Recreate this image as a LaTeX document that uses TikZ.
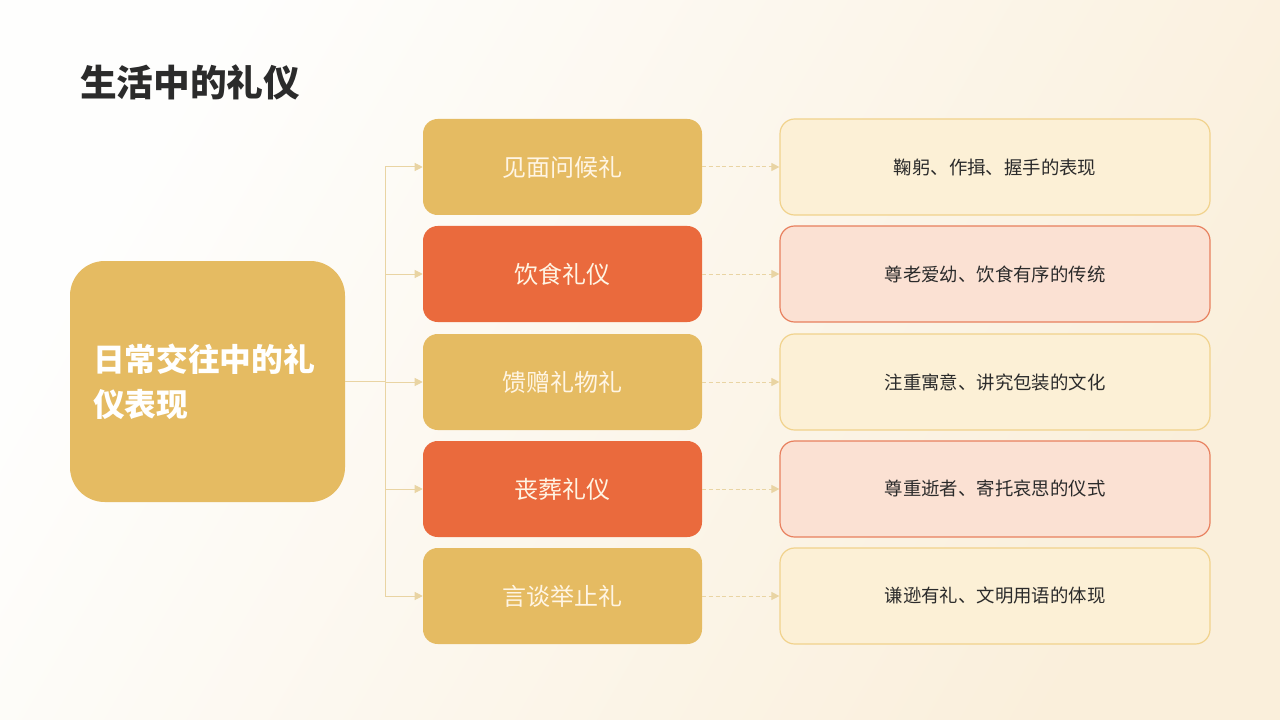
\documentclass[tikz,border=0pt]{standalone}
\usepackage{fontspec}
\setmainfont{Noto Sans CJK SC}
\usetikzlibrary{arrows.meta}
\usetikzlibrary{positioning}
\definecolor{gold}{HTML}{E5BB62}
\definecolor{flame}{HTML}{EA6A3D}
\definecolor{goldpale}{HTML}{FCF0D6}
\definecolor{goldline}{HTML}{F1D28C}
\definecolor{flamepale}{HTML}{FBE1D3}
\definecolor{flameline}{HTML}{E8805E}
\definecolor{wire}{HTML}{E9D4A3}
\definecolor{ink}{HTML}{2B2B2B}
\definecolor{cream}{HTML}{FFF5E4}
\definecolor{paper}{HTML}{FEFEFD}
\definecolor{paperdeep}{HTML}{FAEFDB}
\tikzset{
  rootbox/.style={rounded corners=26pt, fill=gold, text=white, align=left,
    text width=171.75pt, inner xsep=17.25pt, minimum height=180.75pt,
    font=\bfseries\fontsize{23.8pt}{34pt}\selectfont},
  itembox/.style={rounded corners=11pt, minimum width=209.25pt, minimum height=72pt,
    text=cream, font=\fontsize{18pt}{22pt}\selectfont},
  notebox/.style={rounded corners=11pt, minimum width=322.5pt, minimum height=72pt,
    line width=0.9pt, text=ink, font=\fontsize{13.8pt}{17pt}\selectfont},
  goldnote/.style={notebox, fill=goldpale, draw=goldline},
  flamenote/.style={notebox, fill=flamepale, draw=flameline},
  link/.style={wire, line width=0.75pt, -{Triangle[length=6pt,width=6pt]}},
  dlink/.style={link, dash pattern={on 3pt off 2pt}}
}
\begin{document}
\begin{tikzpicture}[x=0.75pt,y=0.75pt,yscale=-1,xscale=1]
\useasboundingbox (0,0) rectangle (1280,720);
%Background
\shade [top color=paper, bottom color=paperdeep, shading angle=60] (0,0) rectangle (1280,720);

% Title
\node [anchor=west, inner sep=0pt, text=ink, font=\bfseries\fontsize{27.5pt}{32pt}\selectfont] (title) at (80,82) {生活中的礼仪};

%Root box
\node [rootbox] (root) at (207.5,381.5) {日常交往中的礼\\仪表现};

%Item boxes
\node [itembox, fill=gold] (greet) at (562.5,167) {见面问候礼};
\node [itembox, fill=flame] (dine) at (562.5,274) {饮食礼仪};
\node [itembox, fill=gold] (gift) at (562.5,382) {馈赠礼物礼};
\node [itembox, fill=flame] (funeral) at (562.5,489) {丧葬礼仪};
\node [itembox, fill=gold] (speech) at (562.5,596) {言谈举止礼};

%Note boxes
\node [goldnote] (greetnote) at (995,167) {鞠躬、作揖、握手的表现};
\node [flamenote] (dinenote) at (995,274) {尊老爱幼、饮食有序的传统};
\node [goldnote] (giftnote) at (995,382) {注重寓意、讲究包装的文化};
\node [flamenote] (funeralnote) at (995,489) {尊重逝者、寄托哀思的仪式};
\node [goldnote] (speechnote) at (995,596) {谦逊有礼、文明用语的体现};

%Tree connectors
\coordinate (hub) at (385,381.5);
\draw [link] (root.east) -- (hub) |- (greet.west);
\draw [link] (root.east) -- (hub) |- (dine.west);
\draw [link] (root.east) -- (hub) |- (gift.west);
\draw [link] (root.east) -- (hub) |- (funeral.west);
\draw [link] (root.east) -- (hub) |- (speech.west);

%Dashed connectors
\draw [dlink] (greet.east) -- (greetnote.west);
\draw [dlink] (dine.east) -- (dinenote.west);
\draw [dlink] (gift.east) -- (giftnote.west);
\draw [dlink] (funeral.east) -- (funeralnote.west);
\draw [dlink] (speech.east) -- (speechnote.west);

\end{tikzpicture}
\end{document}
